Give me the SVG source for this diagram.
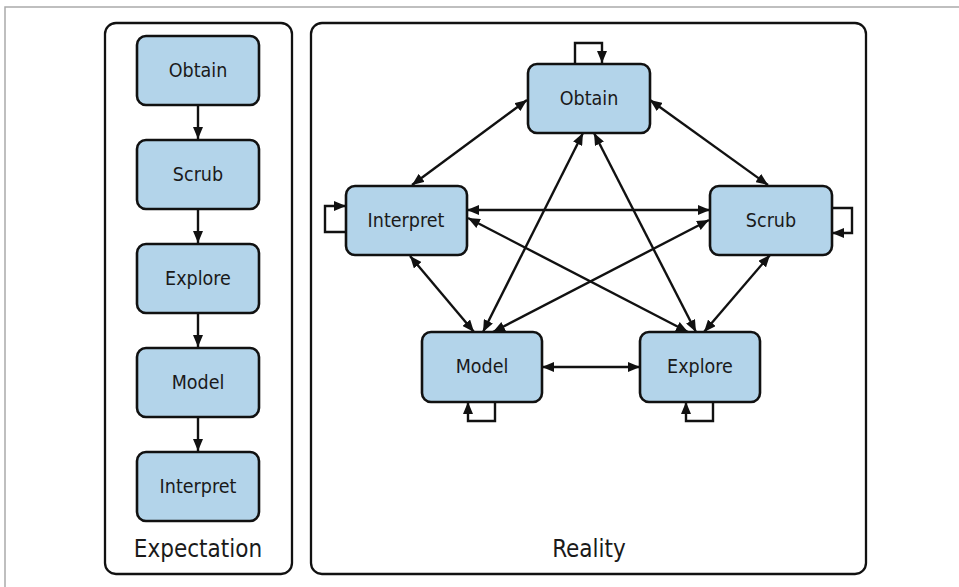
<svg xmlns="http://www.w3.org/2000/svg" width="959" height="587" viewBox="0 0 959 587">
  <style>
    .panel { fill: #ffffff; stroke: #111111; stroke-width: 2.3; }
    .node rect { fill: #b3d4ea; stroke: #111111; stroke-width: 2.6; }
    .node text, .title { font-family: "DejaVu Sans Condensed", "DejaVu Sans", sans-serif; font-stretch: condensed; fill: #1a1a1a; text-anchor: middle; }
    .node text { font-size: 19.5px; }
    .title { font-size: 24px; }
    .edge { fill: none; stroke: #111111; stroke-width: 2.4; }
    .both { marker-start: url(#head); marker-end: url(#head); }
    .one { marker-end: url(#head); }
  </style>
  <defs>
    <marker id="head" viewBox="0 0 12 10" refX="12" refY="5" markerWidth="12" markerHeight="10" markerUnits="userSpaceOnUse" orient="auto-start-reverse">
      <path d="M0,0 L12,5 L0,10 z" fill="#111111"/>
    </marker>
  </defs>

  <rect width="959" height="587" fill="#ffffff"/>
  <path d="M5,587 V7 H959" fill="none" stroke="#aaaaaa" stroke-width="1.5"/>

  <!-- panels -->
  <g id="expectation-panel">
    <rect class="panel" x="105" y="23" width="187" height="551" rx="11"/>
    <text class="title" x="198" y="557">Expectation</text>
  </g>
  <g id="reality-panel">
    <rect class="panel" x="311" y="23" width="555" height="551" rx="11"/>
    <text class="title" x="589" y="557">Reality</text>
  </g>

  <!-- connectors -->
  <g id="connectors">
    <!-- expectation chain -->
    <path class="edge one" d="M198,105 V139"/>
    <path class="edge one" d="M198,209 V243"/>
    <path class="edge one" d="M198,313 V347"/>
    <path class="edge one" d="M198,417 V451"/>

    <!-- reality web -->
    <path class="edge both" d="M527,100 L412,185"/>
    <path class="edge both" d="M650,100 L768,185"/>
    <path class="edge both" d="M467,210 L710,210"/>
    <path class="edge both" d="M468,218 L688,332"/>
    <path class="edge both" d="M709,220 L493,332"/>
    <path class="edge both" d="M583,133 L483,332"/>
    <path class="edge both" d="M594,133 L696,332"/>
    <path class="edge both" d="M410,256 L474,332"/>
    <path class="edge both" d="M770,255 L704,332"/>
    <path class="edge both" d="M542,367 L640,367"/>

    <!-- self loops -->
    <path class="edge one" d="M575,63 V43 H602 V63"/>
    <path class="edge one" d="M346,232 H325 V206 H346"/>
    <path class="edge one" d="M832,208 H852 V233 H832"/>
    <path class="edge one" d="M495,402 V421 H468 V402"/>
    <path class="edge one" d="M713,402 V421 H686 V402"/>
  </g>

  <!-- expectation nodes -->
  <g id="exp-obtain" class="node">
    <rect x="137" y="36" width="122" height="69" rx="9"/>
    <text x="198" y="77">Obtain</text>
  </g>
  <g id="exp-scrub" class="node">
    <rect x="137" y="140" width="122" height="69" rx="9"/>
    <text x="198" y="181">Scrub</text>
  </g>
  <g id="exp-explore" class="node">
    <rect x="137" y="244" width="122" height="69" rx="9"/>
    <text x="198" y="285">Explore</text>
  </g>
  <g id="exp-model" class="node">
    <rect x="137" y="348" width="122" height="69" rx="9"/>
    <text x="198" y="389">Model</text>
  </g>
  <g id="exp-interpret" class="node">
    <rect x="137" y="452" width="122" height="69" rx="9"/>
    <text x="198" y="493">Interpret</text>
  </g>

  <!-- reality nodes -->
  <g id="obtain" class="node">
    <rect x="528" y="64" width="122" height="69" rx="9"/>
    <text x="589" y="105">Obtain</text>
  </g>
  <g id="interpret" class="node">
    <rect x="346" y="186" width="121" height="69" rx="9"/>
    <text x="406" y="227">Interpret</text>
  </g>
  <g id="scrub" class="node">
    <rect x="710" y="186" width="122" height="69" rx="9"/>
    <text x="771" y="227">Scrub</text>
  </g>
  <g id="model" class="node">
    <rect x="422" y="332" width="120" height="70" rx="9"/>
    <text x="482" y="373">Model</text>
  </g>
  <g id="explore" class="node">
    <rect x="640" y="332" width="120" height="70" rx="9"/>
    <text x="700" y="373">Explore</text>
  </g>
</svg>
